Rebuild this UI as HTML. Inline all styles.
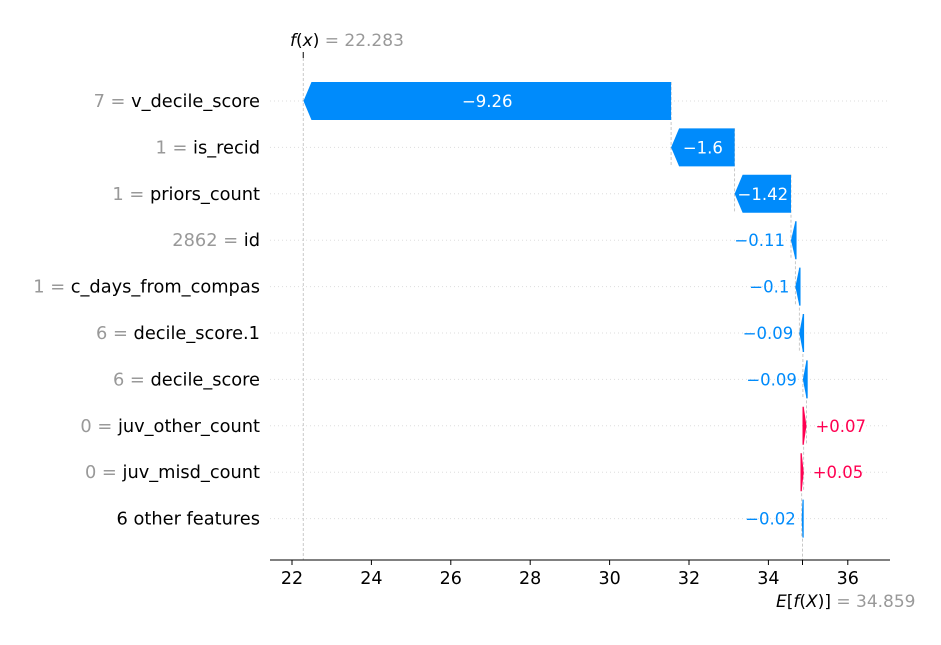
<!DOCTYPE html>
<html><head><meta charset="utf-8"><style>
body{margin:0;background:#fff;}
svg text{font-family:"DejaVu Sans","Liberation Sans",sans-serif;}
</style></head><body>
<svg id="chart" width="941" height="640" xmlns="http://www.w3.org/2000/svg"></svg>
<script>
const featureNames = ["v_decile_score","is_recid","priors_count","id","c_days_from_compas","decile_score.1","decile_score","juv_other_count","juv_misd_count","6 other features"];
const featureValues = ["7","1","1","2862","1","6","6","0","0",""];
const shapValues = [-9.26,-1.6,-1.42,-0.11,-0.1,-0.09,-0.09,0.07,0.05,-0.02];
const shapLabels = ["\u22129.26","\u22121.6","\u22121.42","\u22120.11","\u22120.1","\u22120.09","\u22120.09","+0.07","+0.05","\u22120.02"];
const baseValue = 34.859;
const fxValue = 22.283;
const xTicks = [22,24,26,28,30,32,34,36];

const NS="http://www.w3.org/2000/svg";
const svg=document.getElementById('chart');
const x=v=>292+(v-22)*39.7;
const rowY=i=>101+i*46.4;
const BLUE="#008bfb", RED="#ff0051";
function el(t,a,txt){const e=document.createElementNS(NS,t);for(const k in a)e.setAttribute(k,a[k]);if(txt!==undefined)e.textContent=txt;svg.appendChild(e);return e;}

for(let i=0;i<featureNames.length;i++){
  const g=el('line',{x1:270,x2:890,y1:rowY(i),y2:rowY(i),stroke:"#ddd","stroke-width":1,"stroke-dasharray":"1,3"});
  
  
}
const n=shapValues.length;
let ends=new Array(n), starts=new Array(n);
let cur=baseValue;
for(let i=n-1;i>=0;i--){starts[i]=cur;cur+=shapValues[i];ends[i]=cur;}
let l=el('line',{x1:x(fxValue),x2:x(fxValue),y1:58,y2:560,stroke:"#bbb","stroke-width":0.8,"stroke-dasharray":"3,2"});


el('line',{x1:x(fxValue),x2:x(fxValue),y1:52,y2:58,stroke:"#000","stroke-width":1});
l=el('line',{x1:x(baseValue),x2:x(baseValue),y1:rowY(n-1),y2:560,stroke:"#bbb","stroke-width":0.8,"stroke-dasharray":"3,2"});


for(let i=0;i<n-1;i++){
  const c=el('line',{x1:x(starts[i]),x2:x(starts[i]),y1:rowY(i)-19,y2:rowY(i+1)+19,stroke:"#bbb","stroke-width":0.8,"stroke-dasharray":"3,2"});
  
  
}
for(let i=0;i<n;i++){
  const y=rowY(i), top=y-19, bot=y+19;
  const s=x(starts[i]), e=x(ends[i]);
  const w=Math.abs(e-s), dir=shapValues[i]<0?-1:1;
  const head=Math.min(8,w);
  const body=e-dir*head;
  const col=dir<0?BLUE:RED;
  let pts;
  if(w>8) pts=`${s},${top} ${body},${top} ${e},${y} ${body},${bot} ${s},${bot}`;
  else { const s2=s-dir*1.2; pts=`${s2},${top} ${s},${top} ${e},${y} ${s},${bot} ${s2},${bot}`; }
  const p=el('polygon',{points:pts,fill:col});
  
  
  let t;
  if(w>50){
    t=el('text',{x:(s+e)/2,y:y+6,"text-anchor":"middle","font-size":16.5,fill:"#fff"},shapLabels[i]);
  } else if(dir<0){
    t=el('text',{x:e-6,y:y+6,"text-anchor":"end","font-size":16.5,fill:col},shapLabels[i]);
  } else {
    t=el('text',{x:e+9,y:y+6,"text-anchor":"start","font-size":16.5,fill:col},shapLabels[i]);
  }
  
  
  const fl=el('text',{x:260,y:y+6,"text-anchor":"end","font-size":17.8,fill:"#000"});
  
  
  if(featureValues[i]!==""){
    const a=document.createElementNS(NS,'tspan');a.setAttribute('fill','#999');a.textContent=featureValues[i]+" = ";fl.appendChild(a);
  }
  const b=document.createElementNS(NS,'tspan');b.textContent=featureNames[i];fl.appendChild(b);
}
l=el('line',{x1:270,x2:890,y1:560,y2:560,stroke:"#000","stroke-width":1});


xTicks.forEach(v=>{
  el('line',{x1:x(v),x2:x(v),y1:560,y2:565,stroke:"#000","stroke-width":1});
  const t=el('text',{x:x(v),y:584,"text-anchor":"middle","font-size":17.5,fill:"#000"},String(v));
  
  
});
el('line',{x1:x(baseValue),x2:x(baseValue),y1:560,y2:565,stroke:"#000","stroke-width":1});
let a=el('text',{x:290,y:46,"font-size":17,fill:"#000"});


a.innerHTML='<tspan font-style="italic">f</tspan>(<tspan font-style="italic">x</tspan>)<tspan fill="#999"> = 22.283</tspan>';
a=el('text',{x:776,y:607,"font-size":17,fill:"#000"});


a.innerHTML='<tspan font-style="italic">E</tspan>[<tspan font-style="italic">f</tspan>(<tspan font-style="italic">X</tspan>)]<tspan fill="#999"> = 34.859</tspan>';
</script>
</body></html>
